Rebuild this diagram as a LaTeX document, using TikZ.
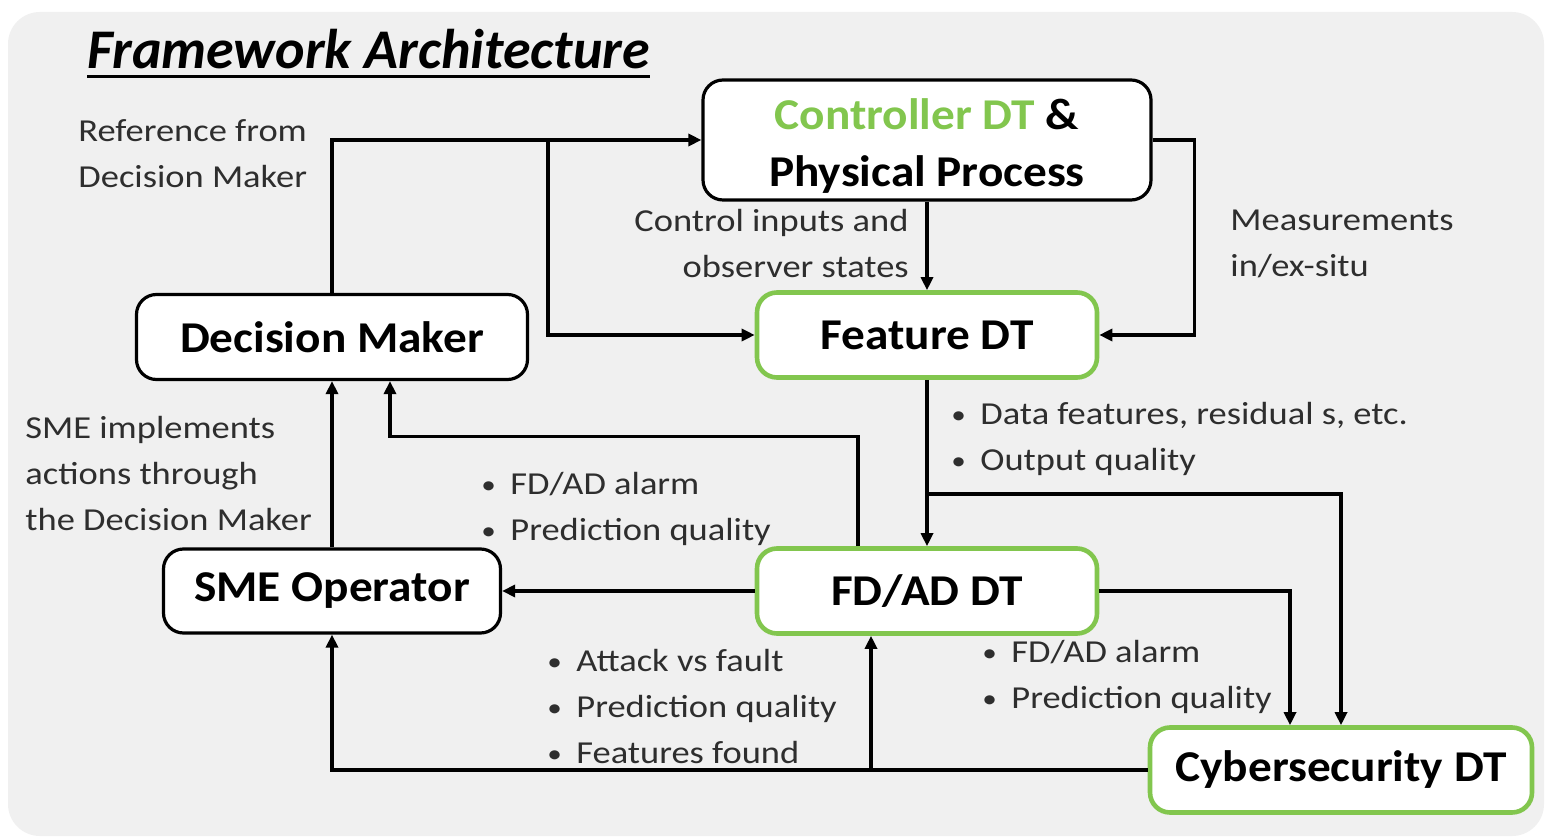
\documentclass[tikz,border=0pt]{standalone}
\usepackage{fontspec}
\setmainfont{Carlito}
\newfontfamily\lblfont{Carlito}[FakeStretch=1.14]
\newfontfamily\boxfont{Carlito}[FakeStretch=1.075]
\usetikzlibrary{arrows.meta,calc}
\definecolor{bggray}{HTML}{F0F0F0}
\definecolor{dtgreen}{HTML}{82C64E}
\definecolor{txtgray}{HTML}{2E2E2E}
\tikzset{
  box/.style={draw=black, line width=1.6pt, fill=white, rounded corners=10pt, align=center, font=\boxfont\fontsize{22}{28.5}\selectfont\bfseries, inner sep=0pt},
  gbox/.style={box, draw=dtgreen, line width=2.3pt},
  arr/.style={line width=1.6pt, -{Triangle[length=6.5pt,width=6pt]}},
  lbl/.style={align=left, font=\lblfont\fontsize{16}{23}\selectfont, text=txtgray, inner sep=0pt},
}
\newcommand{\bul}{\makebox[14.5pt][l]{\raisebox{0.5pt}{\scalebox{0.8}{\textbullet}}}}
\begin{document}
\begin{tikzpicture}[x=0.5pt,y=-0.5pt]
\useasboundingbox (0,0) rectangle (1546,838);
\fill[white] (0,0) rectangle (1546,838);
\fill[bggray, rounded corners=16pt] (8,12) rectangle (1544,836);

% title
\node[anchor=base west, inner sep=0pt, font=\fontsize{28}{34}\selectfont\bfseries\itshape] (title) at (87,69) {Framework Architecture};
\draw[line width=1.5pt] ([yshift=-4pt]title.base west) -- ([yshift=-4pt]title.base east);

% nodes
\node[box, minimum width=224pt, minimum height=60pt] (ctrl) at (927,140) {\rule{0pt}{21pt}\textcolor{dtgreen}{Controller DT} \&\\Physical Process};
\node[gbox, minimum width=170pt, minimum height=42.5pt] (feat) at (927,335) {Feature DT};
\node[box, minimum width=195.5pt, minimum height=42.5pt] (dm) at (332,337) {Decision Maker};
\node[box, minimum width=168.5pt, minimum height=42pt] (sme) at (332,591) {SME Operator};
\node[gbox, minimum width=170pt, minimum height=42.5pt] (fdad) at (927,591) {FD/AD DT};
\node[gbox, minimum width=191pt, minimum height=42.5pt] (cyber) at (1341,770) {Cybersecurity DT};

% junction coordinates
\coordinate (j1) at (548,140);
\coordinate (j2) at (927,494);
\coordinate (j3) at (871,770);

% connectors
\draw[arr] (dm.north) |- (ctrl.west);
\draw[arr] (j1) |- (feat.west);
\draw[arr] (ctrl.south) -- (feat.north);
\draw[arr] (ctrl.east) -- ++(42,0) |- (feat.east);
\draw[arr] (feat.south) -- (fdad.north);
\draw[arr] (j2) -| (cyber.north);
\draw[arr] (fdad.east) -| ([xshift=-25.5pt]cyber.north);
\draw[arr] (fdad.west) -- (sme.east);
\draw[arr] ([xshift=-34.5pt]fdad.north) -- ++(0,-110) -| ([xshift=29pt]dm.south);
\draw[arr] (sme.north) -- (dm.south);
\draw[arr] (cyber.west) -| (sme.south);
\draw[arr] (j3) -- (j3 |- fdad.south);

% labels
\node[lbl, anchor=west] (l1) at (78,154) {Reference from\\Decision Maker};
\node[lbl, anchor=east, align=right] (l2) at (909,244) {Control inputs and\\observer states};
\node[lbl, anchor=west] (l3) at (1230,244) {Measurements\\in/ex-situ};
\node[lbl, anchor=west] (l4) at (25,474) {SME implements\\actions through\\the Decision Maker};
\node[lbl, anchor=west] (l5) at (481,509) {\bul FD/AD alarm\\\bul Prediction quality};
\node[lbl, anchor=west] (l6) at (951,439) {\bul Data features, residual s, etc.\\\bul Output quality};
\node[lbl, anchor=west] (l7) at (547,707) {\bul Attack vs fault\\\bul Prediction quality\\\bul Features found};
\node[lbl, anchor=west] (l8) at (982,677) {\bul FD/AD alarm\\\bul Prediction quality};
\end{tikzpicture}
\end{document}
